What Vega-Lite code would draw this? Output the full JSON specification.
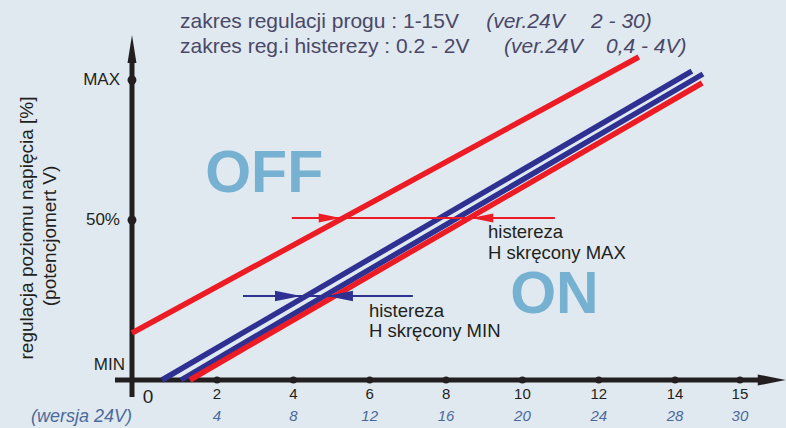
{
  "$schema": "https://vega.github.io/schema/vega-lite/v6.json",
  "width": 786,
  "height": 428,
  "autosize": {"type": "fit", "contains": "padding"},
  "padding": 0,
  "background": "#e0e9f0",
  "config": {"view": {"stroke": null}, "text": {"font": "Liberation Sans"}},
  "datasets": {
    "lines": [
      {"line": "red1", "kind": "red", "x": -0.228, "y": 15.67},
      {"line": "red1", "kind": "red", "x": 13.05, "y": 107.67},
      {"line": "blue1", "kind": "blue", "x": 0.558, "y": 0},
      {"line": "blue1", "kind": "blue", "x": 14.44, "y": 103},
      {"line": "blue2", "kind": "blue", "x": 1.056, "y": 0},
      {"line": "blue2", "kind": "blue", "x": 14.73, "y": 102},
      {"line": "red2", "kind": "red", "x": 1.29, "y": 0},
      {"line": "red2", "kind": "red", "x": 14.71, "y": 99}
    ],
    "hlines": [
      {"kind": "red", "x": 3.96, "x2": 10.85, "y": 54},
      {"kind": "blue", "x": 2.68, "x2": 7.13, "y": 28}
    ],
    "heads": [
      {"kind": "red", "dir": "right", "x": 5.24, "y": 54},
      {"kind": "red", "dir": "left", "x": 8.66, "y": 54},
      {"kind": "blue", "dir": "right", "x": 4.2, "y": 28},
      {"kind": "blue", "dir": "left", "x": 4.88, "y": 28}
    ],
    "axisRules": [
      {"x": -0.228, "x2": -0.228, "y": -5.67, "y2": 106},
      {"x": -0.673, "x2": 16.4, "y": 0, "y2": 0}
    ],
    "axisHeads": [
      {"dir": "up", "x": -0.228, "y": 115},
      {"dir": "right", "x": 16.9, "y": 0}
    ],
    "xdots": [
      {"x": 2, "y": 0}, {"x": 4, "y": 0}, {"x": 6, "y": 0}, {"x": 8, "y": 0},
      {"x": 10, "y": 0}, {"x": 12, "y": 0}, {"x": 14, "y": 0}, {"x": 15.7, "y": 0}
    ],
    "xlabels": [
      {"x": 2, "y": -4.5, "label": "2"},
      {"x": 4, "y": -4.5, "label": "4"},
      {"x": 6, "y": -4.5, "label": "6"},
      {"x": 8, "y": -4.5, "label": "8"},
      {"x": 10, "y": -4.5, "label": "10"},
      {"x": 12, "y": -4.5, "label": "12"},
      {"x": 14, "y": -4.5, "label": "14"},
      {"x": 15.7, "y": -4.5, "label": "15"}
    ],
    "xalt": [
      {"x": 2, "y": -12, "label": "4"},
      {"x": 4, "y": -12, "label": "8"},
      {"x": 6, "y": -12, "label": "12"},
      {"x": 8, "y": -12, "label": "16"},
      {"x": 10, "y": -12, "label": "20"},
      {"x": 12, "y": -12, "label": "24"},
      {"x": 14, "y": -12, "label": "28"},
      {"x": 15.7, "y": -12, "label": "30"}
    ],
    "yticks": [
      {"x": -0.228, "y": 100, "label": "MAX"},
      {"x": -0.228, "y": 53.33, "label": "50%"}
    ]
  },
  "encoding": {
    "x": {"field": "x", "type": "quantitative", "scale": {"domain": [-3.686, 16.906], "nice": false, "zero": false}, "axis": null},
    "y": {"field": "y", "type": "quantitative", "scale": {"domain": [-16, 126.667], "nice": false, "zero": false}, "axis": null}
  },
  "layer": [
    {
      "data": {"name": "axisRules"},
      "mark": {"type": "rule", "color": "#231f20", "strokeWidth": 5},
      "encoding": {"x2": {"field": "x2"}, "y2": {"field": "y2"}}
    },
    {
      "data": {"name": "axisHeads"},
      "mark": {"type": "point", "filled": true, "color": "#231f20", "opacity": 1, "size": 784, "strokeWidth": 0},
      "encoding": {
        "shape": {"field": "dir", "type": "nominal", "scale": {"domain": ["up", "right", "left"], "range": ["M0,0L0.32,2L-0.32,2Z", "M0,0L-2,-0.4L-2,0.4Z", "M0,0L2,-0.4L2,0.4Z"]}, "legend": null}
      }
    },
    {
      "data": {"name": "xdots"},
      "mark": {"type": "circle", "color": "#231f20", "opacity": 1, "size": 50}
    },
    {
      "data": {"name": "yticks"},
      "mark": {"type": "circle", "color": "#231f20", "opacity": 1, "size": 80}
    },
    {
      "data": {"name": "lines"},
      "mark": {"type": "line", "strokeWidth": 5.5, "strokeCap": "butt"},
      "encoding": {
        "detail": {"field": "line"},
        "color": {"field": "kind", "type": "nominal", "scale": {"domain": ["red", "blue"], "range": ["#ed1c24", "#2e3192"]}, "legend": null}
      }
    },
    {
      "data": {"name": "hlines"},
      "mark": {"type": "rule", "strokeWidth": 2},
      "encoding": {
        "x2": {"field": "x2"},
        "color": {"field": "kind", "type": "nominal", "legend": null}
      }
    },
    {
      "data": {"name": "heads"},
      "mark": {"type": "point", "filled": true, "opacity": 1, "strokeWidth": 0},
      "encoding": {
        "shape": {"field": "dir", "type": "nominal", "legend": null},
        "size": {"field": "kind", "type": "nominal", "scale": {"domain": ["red", "blue"], "range": [484, 676]}, "legend": null},
        "color": {"field": "kind", "type": "nominal", "legend": null}
      }
    },
    {
      "data": {"name": "yticks"},
      "mark": {"type": "text", "align": "right", "baseline": "middle", "fontSize": 17, "color": "#231f20", "dx": -12},
      "encoding": {"text": {"field": "label"}}
    },
    {
      "data": {"values": [{"x": -0.41, "y": 5, "label": "MIN"}]},
      "mark": {"type": "text", "align": "right", "baseline": "middle", "fontSize": 17, "color": "#231f20"},
      "encoding": {"text": {"field": "label"}}
    },
    {
      "data": {"name": "xlabels"},
      "mark": {"type": "text", "align": "center", "baseline": "middle", "fontSize": 15, "color": "#231f20"},
      "encoding": {"text": {"field": "label"}}
    },
    {
      "data": {"name": "xalt"},
      "mark": {"type": "text", "align": "center", "baseline": "middle", "fontSize": 15, "fontStyle": "italic", "color": "#4b6a9b"},
      "encoding": {"text": {"field": "label"}}
    },
    {
      "data": {"values": [{"x": 0.19, "y": -5.5, "label": "0"}]},
      "mark": {"type": "text", "align": "center", "baseline": "middle", "fontSize": 19, "color": "#231f20"},
      "encoding": {"text": {"field": "label"}}
    },
    {
      "data": {"values": [{"x": -0.228, "y": -12.33, "label": "(wersja 24V)"}]},
      "mark": {"type": "text", "align": "right", "baseline": "middle", "fontSize": 18, "fontStyle": "italic", "color": "#4b6a9b"},
      "encoding": {"text": {"field": "label"}}
    },
    {
      "data": {"values": [
        {"x": 1.03, "y": 117.33, "label": "zakres regulacji progu : 1-15V"},
        {"x": 1.03, "y": 109, "label": "zakres reg.i histerezy : 0.2 - 2V"}
      ]},
      "mark": {"type": "text", "align": "left", "baseline": "alphabetic", "fontSize": 21, "color": "#4a4866"},
      "encoding": {"text": {"field": "label"}}
    },
    {
      "data": {"values": [
        {"x": 9.05, "y": 117.33, "label": "(ver.24V"},
        {"x": 11.8, "y": 117.33, "label": "2 - 30)"},
        {"x": 9.52, "y": 109, "label": "(ver.24V"},
        {"x": 12.19, "y": 109, "label": "0,4 - 4V)"}
      ]},
      "mark": {"type": "text", "align": "left", "baseline": "alphabetic", "fontSize": 21, "fontStyle": "italic", "color": "#4a4866"},
      "encoding": {"text": {"field": "label"}}
    },
    {
      "data": {"values": [
        {"x": 1.69, "y": 62.67, "label": "OFF"},
        {"x": 9.68, "y": 22.33, "label": "ON"}
      ]},
      "mark": {"type": "text", "align": "left", "baseline": "alphabetic", "fontSize": 59, "fontWeight": "bold", "color": "#77b1d2"},
      "encoding": {"text": {"field": "label"}}
    },
    {
      "data": {"values": [
        {"x": 9.1, "y": 47.33, "label": "histereza"},
        {"x": 9.1, "y": 40.33, "label": "H skręcony MAX"},
        {"x": 5.98, "y": 21, "label": "histereza"},
        {"x": 5.98, "y": 14.33, "label": "H skręcony MIN"}
      ]},
      "mark": {"type": "text", "align": "left", "baseline": "alphabetic", "fontSize": 18.5, "color": "#231f20"},
      "encoding": {"text": {"field": "label"}}
    },
    {
      "data": {"values": [
        {"x": -2.98, "y": 50.67, "label": "regulacja poziomu napięcia [%]"},
        {"x": -2.38, "y": 48, "label": "(potencjomert V)"}
      ]},
      "mark": {"type": "text", "align": "center", "baseline": "middle", "angle": 270, "fontSize": 19, "color": "#231f20"},
      "encoding": {"text": {"field": "label"}}
    }
  ]
}
